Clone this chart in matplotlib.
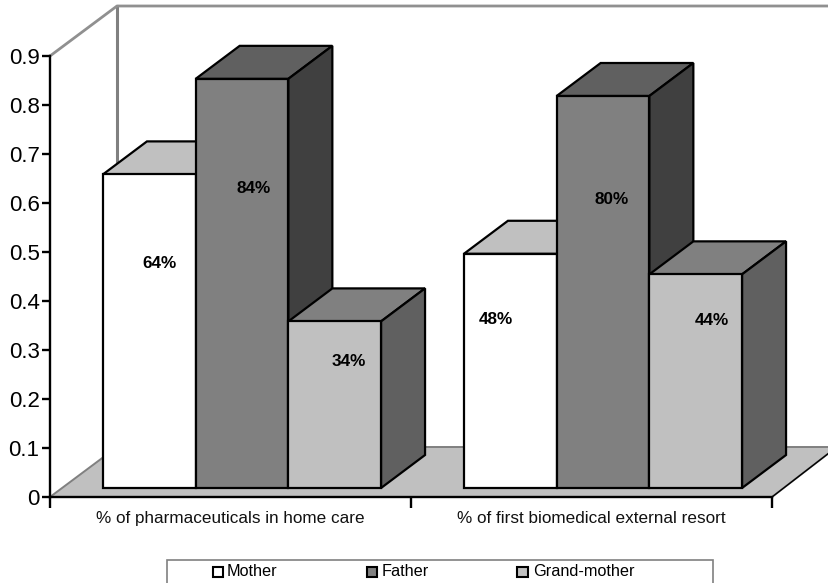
import matplotlib
matplotlib.use("Agg")
import matplotlib.pyplot as plt
from matplotlib.patches import Polygon, Rectangle

plt.rcParams["font.family"] = ["Liberation Sans", "DejaVu Sans"]

categories = ["% of pharmaceuticals in home care", "% of first biomedical external resort"]
series = ["Mother", "Father", "Grand-mother"]
mother = [0.64, 0.478]
father = [0.835, 0.80]
grandmother = [0.34, 0.436]
value_labels = [["64%", "48%"], ["84%", "80%"], ["34%", "44%"]]
yticks = [0, 0.1, 0.2, 0.3, 0.4, 0.5, 0.6, 0.7, 0.8, 0.9]
ytick_labels = ["0", "0.1", "0.2", "0.3", "0.4", "0.5", "0.6", "0.7", "0.8", "0.9"]

# label placement in pixels from the bar's front centre / front top
label_dx = [[10, -14], [12, 9], [14, 16]]
label_drop = [[89, 66], [110, 103], [40, 46]]

# face colours: front, top, side
styles = [("#ffffff", "#c0c0c0", "#c0c0c0"),
          ("#808080", "#606060", "#404040"),
          ("#c0c0c0", "#808080", "#606060")]

W, H = 829, 583
fig = plt.figure(figsize=(W / 100, H / 100), dpi=100)
# plot box in pixels: x 50..772, y 56..497
ax = fig.add_axes([50 / W, 1 - 497 / H, 722 / W, 441 / H])
ax.set_xlim(0, 2)
ax.set_ylim(0, 0.9)
ax.patch.set_visible(False)
for s in ["top", "right"]:
    ax.spines[s].set_visible(False)
for s in ["left", "bottom"]:
    ax.spines[s].set_linewidth(1.7)

px = 2 / 722      # data units per pixel, x
py = 0.9 / 441    # data units per pixel, y


def poly(pts, fc, ec="black", lw=1.6, z=2):
    ax.add_patch(Polygon(pts, closed=True, fc=fc, ec=ec, lw=lw, zorder=z,
                         clip_on=False, joinstyle="miter"))


# walls and floor
wx, wy = 67 * px, 50 * py
top = 0.9
right = (W - 50) * px
poly([(0, 0), (wx, wy), (right, wy), (right, 44 * py), (2, 0)], "#c0c0c0", "#808080", 1.4, 1)
ax.plot([wx, wx], [wy, top + wy], color="#808080", lw=2.2, zorder=1, clip_on=False)
ax.plot([0, wx, right], [top, top + wy, top + wy], color="#909090", lw=2, zorder=1, clip_on=False)
ax.plot([2, right], [0, 44 * py], color="black", lw=1, zorder=1.5, clip_on=False)

# 3D bars
bw = 92.7 * px
dx, dy = 44 * px, 33 * py
x0, y0 = 11.5 * px, 9 * py
for g in range(2):
    for i, vals in enumerate([mother, father, grandmother]):
        v = vals[g]
        xl = g + 0.5 + x0 + (i - 1.5) * bw
        xr = xl + bw
        ylo, yhi = y0, v + y0
        front, topc, side = styles[i]
        poly([(xl, yhi), (xl + dx, yhi + dy), (xr + dx, yhi + dy), (xr, yhi)], topc, z=2 + i)
        poly([(xr, ylo), (xr + dx, ylo + dy), (xr + dx, yhi + dy), (xr, yhi)], side, z=2 + i)
        poly([(xl, ylo), (xr, ylo), (xr, yhi), (xl, yhi)], front, z=2 + i)
        ax.text((xl + xr) / 2 + label_dx[i][g] * px, yhi - label_drop[i][g] * py, value_labels[i][g],
                ha="center", va="center", fontsize=12.3, fontweight="bold", zorder=8)

ax.set_yticks(yticks)
ax.set_yticklabels(ytick_labels)
ax.tick_params(axis="y", labelsize=16, width=1.7, length=6, pad=1.5)
ax.set_xticks([0, 1, 2])
ax.set_xticklabels([])
ax.tick_params(axis="x", width=1.7, length=8)
for i, c in enumerate(categories):
    ax.text(i + 0.5, -21.5 * py, c, ha="center", va="center", fontsize=12.3, color="#111111", clip_on=False)

# legend box
fig.add_artist(Rectangle((167 / W, -2 / H), 546 / W, (H - 560 + 2) / H, transform=fig.transFigure,
                         fc="white", ec="#808080", lw=1.2))
leg_x = [213, 367, 517]
text_x = [227, 382, 533]
for name, st, lx, tx in zip(series, styles, leg_x, text_x):
    fig.add_artist(Rectangle((lx / W, 1 - 577 / H), 10.5 / W, 10.5 / H, transform=fig.transFigure,
                             fc=st[0], ec="black", lw=1.5))
    fig.text(tx / W, 1 - 572 / H, name, fontsize=11.7, va="center", ha="left")

fig.savefig("out.png", dpi=100)
